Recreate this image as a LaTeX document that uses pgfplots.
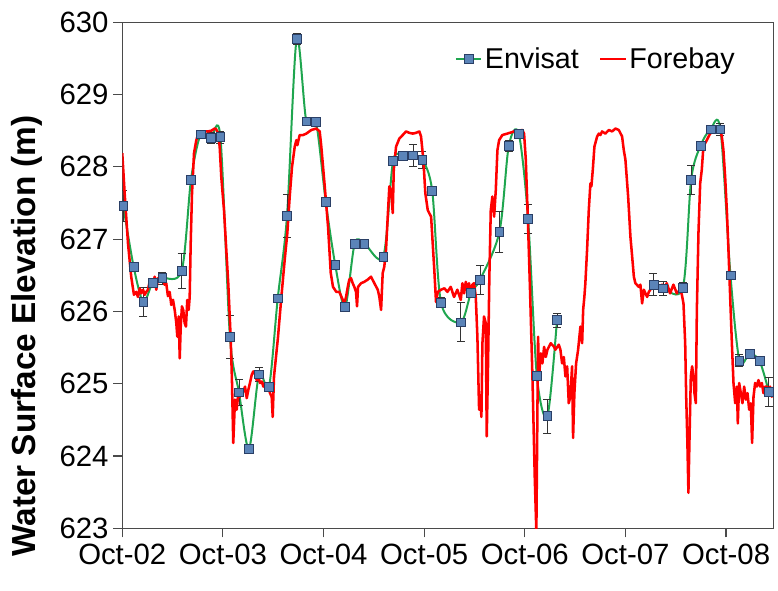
\documentclass[border=0pt]{standalone}
\usepackage{fontspec}
\setmainfont{Liberation Sans}
\usepackage{pgfplots}
\pgfplotsset{compat=1.18}
\definecolor{envGreen}{HTML}{1FA64F}
\definecolor{envFill}{HTML}{5B84B8}
\definecolor{envEdge}{HTML}{2A3F66}
\definecolor{axisGray}{HTML}{4A4A4A}
\begin{document}
\begin{tikzpicture}
  % page frame: 778 x 590 px at 0.75pt per px
  \path (0,0) rectangle (583.5pt,442.5pt);
  \begin{axis}[
    scale only axis,
    at={(91.7pt,46.3pt)}, anchor=south west,
    width=488.3pt, height=379.5pt,
    xmin=0, xmax=6.47,
    ymin=623, ymax=630,
    xtick={0,1,2,3,4,5,6},
    xticklabels={Oct-02,Oct-03,Oct-04,Oct-05,Oct-06,Oct-07,Oct-08},
    ytick={623,624,625,626,627,628,629,630},
    /pgf/number format/assume math mode=true,
    ticklabel style={font=\fontsize{22}{26}\selectfont, black},
    xticklabel style={yshift=-1.5pt},
    xtick pos=bottom, ytick pos=left,
    tick align=outside,
    major tick length=6.75pt,
    tick style={axisGray, line width=0.9pt},
    axis line style={axisGray, line width=0.9pt},
    ylabel={\textbf{Water Surface Elevation (m)}},
    ylabel style={font=\fontsize{25}{29}\selectfont, at={(axis description cs:-0.146,0.38)}, anchor=center},
    legend style={draw=none, fill=none, at={(axis description cs:0.945,0.9275)}, anchor=east,
      font=\fontsize{21.5}{25}\selectfont, legend columns=2,
      /tikz/every even column/.append style={column sep=13pt},
      inner sep=0pt},
    legend image code/.code={%
      \draw[mark repeat=2,mark phase=2] plot coordinates {(0pt,0pt) (9.5pt,0pt) (19pt,0pt)};},
    clip=true,
  ]
    % Envisat altimetry, first pass (Oct-02 to Oct-06)
    \addplot[envGreen, line width=1.5pt, smooth, tension=0.5,
      mark=square*, mark size=3.3pt,
      mark options={fill=envFill, draw=envEdge, line width=0.5pt, solid},
      error bars/.cd, y dir=both, y explicit,
      error bar style={black!80, line width=0.5pt},
      error mark options={rotate=90, mark size=3pt, black!80, line width=0.5pt}]
      coordinates {
        (0.010, 627.46) +- (0, 0.21)
        (0.113, 626.62) +- (0, 0.03)
        (0.209, 626.13) +- (0, 0.20)
        (0.302, 626.40) +- (0, 0.05)
        (0.398, 626.46) +- (0, 0.08)
        (0.590, 626.56) +- (0, 0.24)
        (0.683, 627.82) +- (0, 0.03)
        (0.779, 628.45) +- (0, 0.06)
        (0.879, 628.40) +- (0, 0.08)
        (0.975, 628.41) +- (0, 0.08)
        (1.070, 625.65) +- (0, 0.30)
        (1.160, 624.88) +- (0, 0.18)
        (1.259, 624.10) +- (0, 0.03)
        (1.359, 625.13) +- (0, 0.10)
        (1.458, 624.96) +- (0, 0.05)
        (1.545, 626.18) +- (0, 0.03)
        (1.637, 627.32) +- (0, 0.30)
        (1.733, 629.77) +- (0, 0.08)
        (1.829, 628.63) +- (0, 0.03)
        (1.925, 628.62) +- (0, 0.03)
        (2.022, 627.52) +- (0, 0.05)
        (2.117, 626.64) +- (0, 0.05)
        (2.214, 626.06) +- (0, 0.03)
        (2.310, 626.94) +- (0, 0.03)
        (2.406, 626.94) +- (0, 0.03)
        (2.594, 626.76) +- (0, 0.03)
        (2.691, 628.08) +- (0, 0.06)
        (2.790, 628.15) +- (0, 0.06)
        (2.890, 628.16) +- (0, 0.15)
        (2.982, 628.10) +- (0, 0.12)
        (3.080, 627.67) +- (0, 0.03)
        (3.168, 626.12) +- (0, 0.07)
        (3.364, 625.85) +- (0, 0.27)
        (3.466, 626.26) +- (0, 0.03)
        (3.556, 626.44) +- (0, 0.20)
        (3.748, 627.10) +- (0, 0.28)
        (3.841, 628.29) +- (0, 0.08)
        (3.940, 628.46) +- (0, 0.03)
        (4.033, 627.28) +- (0, 0.20)
        (4.120, 625.11) +- (0, 0.03)
        (4.225, 624.55) +- (0, 0.23)
        (4.320, 625.88) +- (0, 0.10)
      };
    \addlegendentry{Envisat}
    % Envisat, second pass (Oct-07 to Oct-08)
    \addplot[forget plot, envGreen, line width=1.5pt, smooth, tension=0.5,
      mark=square*, mark size=3.3pt,
      mark options={fill=envFill, draw=envEdge, line width=0.5pt, solid},
      error bars/.cd, y dir=both, y explicit,
      error bar style={black!80, line width=0.5pt},
      error mark options={rotate=90, mark size=3pt, black!80, line width=0.5pt}]
      coordinates {
        (5.279, 626.37) +- (0, 0.15)
        (5.372, 626.32) +- (0, 0.10)
        (5.571, 626.33) +- (0, 0.07)
        (5.653, 627.82) +- (0, 0.20)
        (5.746, 628.29) +- (0, 0.05)
        (5.845, 628.52) +- (0, 0.03)
        (5.944, 628.52) +- (0, 0.08)
        (6.044, 626.50) +- (0, 0.03)
        (6.133, 625.32) +- (0, 0.08)
        (6.233, 625.41) +- (0, 0.05)
        (6.332, 625.32) +- (0, 0.03)
        (6.425, 624.89) +- (0, 0.20)
      };
    % Forebay gauge record
    \addplot[red, line width=1.9pt, line join=round] coordinates {
      (0.000,628.19) (0.024,627.63) (0.057,626.94) (0.089,626.48) (0.116,626.23)
      (0.139,626.27) (0.156,626.20) (0.173,626.32) (0.189,626.25) (0.206,626.30)
      (0.223,626.23) (0.239,626.27) (0.255,626.30) (0.272,626.41) (0.288,626.43)
      (0.305,626.37) (0.322,626.48) (0.338,626.30) (0.355,626.46) (0.372,626.41)
      (0.388,626.48) (0.405,626.44) (0.421,626.37) (0.437,626.39) (0.454,626.21)
      (0.471,626.27) (0.487,626.09) (0.504,626.16) (0.521,626.02) (0.537,625.84)
      (0.547,625.65) (0.561,625.93) (0.571,625.35) (0.581,625.79) (0.593,626.07)
      (0.606,626.02) (0.620,625.84) (0.633,625.79) (0.646,626.16) (0.660,626.02)
      (0.670,626.20) (0.680,626.94) (0.693,627.63) (0.713,628.19) (0.736,628.37)
      (0.752,628.44) (0.785,628.46) (0.819,628.49) (0.852,628.49) (0.885,628.50)
      (0.918,628.53) (0.934,628.52) (0.951,628.46) (0.968,628.28) (0.984,627.86)
      (1.011,627.40) (1.031,626.92) (1.054,626.37) (1.078,625.61) (1.090,625.05)
      (1.103,624.18) (1.120,624.78) (1.137,624.64) (1.153,624.87) (1.170,624.82)
      (1.187,624.91) (1.203,624.89) (1.220,624.96) (1.237,624.80) (1.252,624.91)
      (1.269,625.01) (1.286,625.12) (1.302,625.17) (1.319,625.14) (1.336,625.05)
      (1.352,625.10) (1.369,625.01) (1.386,625.03) (1.402,624.96) (1.418,625.01)
      (1.435,624.91) (1.451,624.96) (1.468,624.87) (1.485,624.82) (1.495,624.54)
      (1.508,625.10) (1.548,625.65) (1.581,626.20) (1.614,626.71) (1.640,627.08)
      (1.664,627.59) (1.687,628.00) (1.714,628.28) (1.730,628.37) (1.740,628.30)
      (1.763,628.44) (1.796,628.44) (1.829,628.46) (1.879,628.51) (1.928,628.53)
      (1.962,628.49) (1.978,628.28) (2.012,627.73) (2.045,627.17) (2.072,626.53)
      (2.094,626.34) (2.127,626.27) (2.157,626.27) (2.191,626.16) (2.207,626.11)
      (2.224,626.20) (2.241,626.34) (2.256,626.44) (2.273,626.46) (2.290,626.39)
      (2.306,626.34) (2.323,626.27) (2.333,626.07) (2.343,626.34) (2.373,626.39)
      (2.406,626.41) (2.439,626.44) (2.472,626.48) (2.505,626.39) (2.539,626.30)
      (2.555,626.20) (2.572,626.02) (2.588,626.53) (2.604,626.62) (2.621,626.85)
      (2.638,627.31) (2.654,627.73) (2.671,627.68) (2.688,627.36) (2.698,627.96)
      (2.721,628.28) (2.753,628.39) (2.787,628.44) (2.820,628.49) (2.853,628.47)
      (2.887,628.46) (2.919,628.47) (2.952,628.49) (2.969,628.42) (2.992,628.10)
      (3.012,627.63) (3.036,627.40) (3.069,627.31) (3.085,626.94) (3.101,626.57)
      (3.118,626.13) (3.135,626.27) (3.168,626.30) (3.201,626.32) (3.231,626.27)
      (3.264,626.34) (3.297,626.20) (3.330,626.30) (3.364,626.16) (3.380,626.39)
      (3.397,626.25) (3.414,626.41) (3.429,626.30) (3.446,626.39) (3.463,626.25)
      (3.479,626.37) (3.496,626.39) (3.513,626.20) (3.529,625.65) (3.546,624.64)
      (3.556,624.82) (3.569,624.54) (3.579,625.56) (3.595,625.93) (3.612,625.84)
      (3.622,624.27) (3.635,625.28) (3.648,626.48) (3.662,627.40) (3.678,627.59)
      (3.695,627.31) (3.712,627.68) (3.728,628.23) (3.745,628.37) (3.777,628.44)
      (3.827,628.46) (3.894,628.49) (3.943,628.50) (3.976,628.51) (3.993,628.46)
      (4.010,628.10) (4.033,627.17) (4.053,626.25) (4.076,625.10) (4.099,623.71)
      (4.115,622.95) (4.132,625.65) (4.142,625.10) (4.159,625.42) (4.175,625.28)
      (4.192,625.51) (4.209,625.37) (4.225,625.47) (4.258,625.56) (4.291,625.51)
      (4.304,625.47) (4.338,625.54) (4.354,625.47) (4.371,625.28) (4.388,625.37)
      (4.404,625.10) (4.421,625.24) (4.437,624.73) (4.453,624.82) (4.470,625.24)
      (4.480,624.25) (4.493,624.87) (4.510,625.28) (4.530,625.47) (4.553,625.79)
      (4.570,625.56) (4.580,626.02) (4.592,626.20) (4.602,626.39) (4.619,626.85)
      (4.636,627.40) (4.652,627.77) (4.662,627.73) (4.676,627.96) (4.692,628.28)
      (4.719,628.42) (4.736,628.46) (4.751,628.44) (4.768,628.49) (4.801,628.46)
      (4.835,628.51) (4.868,628.49) (4.901,628.53) (4.934,628.51) (4.967,628.42)
      (4.984,628.23) (5.000,628.10) (5.027,627.59) (5.050,627.03) (5.067,626.76)
      (5.084,626.48) (5.099,626.39) (5.133,626.34) (5.149,626.37) (5.166,626.11)
      (5.183,626.30) (5.199,626.25) (5.216,626.20) (5.233,626.27) (5.265,626.34)
      (5.282,626.39) (5.298,626.37) (5.332,626.34) (5.365,626.37) (5.378,626.30)
      (5.411,626.39) (5.444,626.25) (5.477,626.37) (5.511,626.25) (5.544,626.30)
      (5.561,626.23) (5.577,626.11) (5.594,625.56) (5.604,624.82) (5.616,624.18)
      (5.626,623.49) (5.636,624.18) (5.650,625.10) (5.663,625.24) (5.676,625.10)
      (5.686,624.87) (5.700,624.73) (5.710,626.02) (5.726,627.09) (5.743,627.77)
      (5.759,627.96) (5.775,628.28) (5.809,628.37) (5.842,628.46) (5.875,628.49)
      (5.909,628.51) (5.942,628.51) (5.958,628.42) (5.974,628.23) (5.991,627.86)
      (6.008,627.40) (6.024,626.85) (6.041,626.20) (6.058,625.56) (6.074,625.01)
      (6.091,624.73) (6.108,624.96) (6.117,624.45) (6.130,625.01) (6.147,624.87)
      (6.163,624.73) (6.180,624.96) (6.197,624.78) (6.213,624.87) (6.230,624.64)
      (6.246,624.73) (6.259,624.18) (6.273,624.82) (6.289,625.01) (6.306,624.96)
      (6.322,625.05) (6.339,624.96) (6.356,625.01) (6.372,624.87) (6.389,624.96)
      (6.405,624.96) (6.421,624.87) (6.438,624.96) (6.455,624.82) (6.478,624.96)
    };
    \addlegendentry{Forebay}
  \end{axis}
\end{tikzpicture}
\end{document}
